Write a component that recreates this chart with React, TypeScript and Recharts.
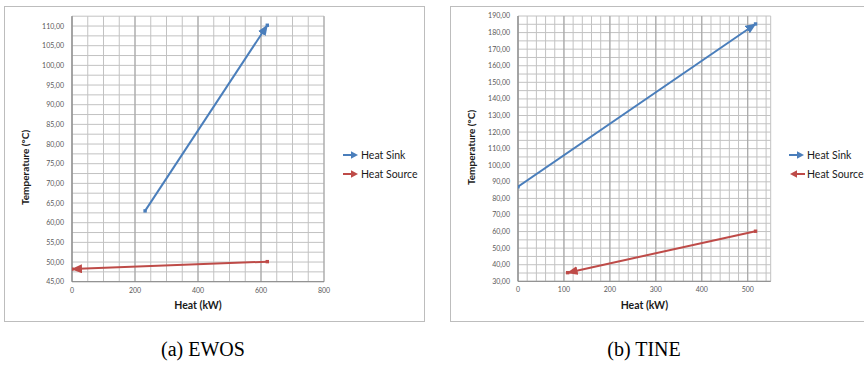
import React from 'react';
import { LineChart, Line, XAxis, YAxis, CartesianGrid, Legend, Label } from 'recharts';

const SINK_COLOR = '#4A7EBB';
const SOURCE_COLOR = '#BE4B48';

// ---- data ----
const ewosHeatSink = [
  { heat: 232, temp: 63.0 },
  { heat: 620, temp: 110.2 },
];
const ewosHeatSource = [
  { heat: 620, temp: 50.1 },
  { heat: 0, temp: 48.2 },
];
const tineHeatSink = [
  { heat: 0, temp: 87.0 },
  { heat: 517, temp: 185.2 },
];
const tineHeatSource = [
  { heat: 517, temp: 60.2 },
  { heat: 108, temp: 35.2 },
];

const ewosXTicks = [0, 200, 400, 600, 800];
const ewosYTicks = [45, 50, 55, 60, 65, 70, 75, 80, 85, 90, 95, 100, 105, 110];
const tineXTicks = [0, 100, 200, 300, 400, 500];
const tineYTicks = [30, 40, 50, 60, 70, 80, 90, 100, 110, 120, 130, 140, 150, 160, 170, 180, 190];

const seriesNames = ['Heat Sink', 'Heat Source'];
const xTitle = 'Heat (kW)';
const yTitle = 'Temperature (°C)';
const captions = ['(a) EWOS', '(b) TINE'];

// grid line helper (gridline positions, not data)
const steps = (a: number, b: number, s: number) => {
  const out: number[] = [];
  for (let v = a; v <= b + 1e-9; v += s) out.push(Math.round(v * 100) / 100);
  return out;
};

const fmt = (v: number) => v.toFixed(2).replace('.', ',');
const FONT = 'Lato, "Open Sans", sans-serif';
const tickStyle = { fontSize: 7, fill: '#595959', fontFamily: FONT };

const squareDot = (color: string) => (p: any) => (
  <rect key={`dot-${p.index}`} x={p.cx - 1.7} y={p.cy - 1.7} width={3.4} height={3.4} fill={color} />
);

const LegendIcon = ({ color, dir }: { color: string; dir: 'right' | 'left' }) => (
  <svg width={16} height={10} style={{ display: 'block', marginRight: 2 }}>
    <line x1={dir === 'right' ? 0 : 6} y1={5} x2={dir === 'right' ? 9 : 16} y2={5} stroke={color} strokeWidth={2} />
    {dir === 'right' ? (
      <polygon points="15,5 8,1.3 8,8.7" fill={color} />
    ) : (
      <polygon points="1,5 8,1.3 8,8.7" fill={color} />
    )}
  </svg>
);

const LegendBox = ({ dirs }: { dirs: ('right' | 'left')[] }) => (
  <div style={{ fontFamily: FONT, fontSize: 10.5, color: '#1a1a1a' }}>
    {seriesNames.map((n, i) => (
      <div key={n} style={{ display: 'flex', alignItems: 'center', height: 19 }}>
        <LegendIcon color={i === 0 ? SINK_COLOR : SOURCE_COLOR} dir={dirs[i]} />
        <span>{n}</span>
      </div>
    ))}
  </div>
);

type PanelProps = {
  sink: { heat: number; temp: number }[];
  source: { heat: number; temp: number }[];
  xDomain: [number, number];
  yDomain: [number, number];
  xTicks: number[];
  yTicks: number[];
  xMinor: number[];
  xMajor: number[];
  yMinor: number[];
  width: number;
  margin: { top: number; right: number; bottom: number; left: number };
  legendDirs: ('right' | 'left')[];
  yTitleDy: number;
};

const Panel = (props: PanelProps) => {
  const { sink, source, xDomain, yDomain, xTicks, yTicks, xMinor, xMajor, yMinor, width, margin, legendDirs, yTitleDy } = props;
  return (
    <LineChart width={width} height={315} margin={margin}>
      <CartesianGrid horizontalValues={yMinor} verticalValues={xMinor} stroke="#c2c2c2" strokeWidth={1} />
      <CartesianGrid horizontal={false} verticalValues={xMajor} stroke="#a3a3a3" strokeWidth={1} />
      <XAxis
        type="number"
        dataKey="heat"
        domain={xDomain}
        ticks={xTicks}
        interval={0}
        allowDataOverflow
        tickSize={0}
        tickMargin={6}
        tickLine={false}
        height={20}
        axisLine={{ stroke: '#868686' }}
        tick={tickStyle}
      >
        <Label
          value={xTitle}
          position="bottom"
          offset={0}
          style={{ fontSize: 10.5, fontWeight: 700, fill: '#1a1a1a', fontFamily: FONT }}
        />
      </XAxis>
      <YAxis
        type="number"
        dataKey="temp"
        domain={yDomain}
        ticks={yTicks}
        interval={0}
        allowDataOverflow
        tickSize={0}
        tickMargin={8}
        tickLine={false}
        width={40}
        axisLine={{ stroke: '#868686' }}
        tick={tickStyle}
        tickFormatter={fmt}
      >
        <Label
          value={yTitle}
          content={(lp: any) => {
            const vb = lp.viewBox || { x: 0, y: 0, width: 0, height: 0 };
            const cx = vb.x - 6.5;
            const cy = vb.y + vb.height / 2 + yTitleDy;
            return (
              <text
                x={cx}
                y={cy}
                textAnchor="middle"
                dominantBaseline="central"
                transform={`rotate(-90, ${cx}, ${cy})`}
                style={{ fontSize: 10, fontWeight: 700, fill: '#1a1a1a', fontFamily: FONT }}
              >
                {yTitle}
              </text>
            );
          }}
        />
      </YAxis>
      <Legend
        layout="vertical"
        align="center"
        verticalAlign="middle"
        wrapperStyle={{ left: 339, top: 139.5, width: 90 }}
        content={() => <LegendBox dirs={legendDirs} />}
      />
      <Line
        data={sink}
        dataKey="temp"
        name={seriesNames[0]}
        stroke={SINK_COLOR}
        strokeWidth={2}
        dot={squareDot(SINK_COLOR)}
        activeDot={false}
        markerEnd="url(#arrowSink)"
        isAnimationActive={false}
      />
      <Line
        data={source}
        dataKey="temp"
        name={seriesNames[1]}
        stroke={SOURCE_COLOR}
        strokeWidth={2}
        dot={squareDot(SOURCE_COLOR)}
        activeDot={false}
        markerEnd="url(#arrowSource)"
        isAnimationActive={false}
      />
    </LineChart>
  );
};

export default function App() {
  return (
    <div style={{ position: 'absolute', left: 0, top: 0, width: 864, height: 366, overflow: 'hidden', background: '#fff' }}>
      <svg width={0} height={0} style={{ position: 'absolute' }}>
        <defs>
          <marker id="arrowSink" viewBox="0 0 11 9" refX={10} refY={4.5} markerWidth={11} markerHeight={9} markerUnits="userSpaceOnUse" orient="auto">
            <path d="M0,0 L11,4.5 L0,9 z" fill={SINK_COLOR} />
          </marker>
          <marker id="arrowSource" viewBox="0 0 11 9" refX={10} refY={4.5} markerWidth={11} markerHeight={9} markerUnits="userSpaceOnUse" orient="auto">
            <path d="M0,0 L11,4.5 L0,9 z" fill={SOURCE_COLOR} />
          </marker>
        </defs>
      </svg>

      {/* panel (a) */}
      <div style={{ position: 'absolute', left: 4, top: 6, width: 419, height: 314, border: '1px solid #bdbdbd' }} />
      <div style={{ position: 'absolute', left: 4, top: 6 }}>
        <Panel
          sink={ewosHeatSink}
          source={ewosHeatSource}
          xDomain={[0, 800]}
          yDomain={[45, 112.5]}
          xTicks={ewosXTicks}
          yTicks={ewosYTicks}
          xMinor={steps(0, 800, 50)}
          xMajor={ewosXTicks}
          yMinor={steps(45, 112.5, 2.5)}
          width={420}
          margin={{ top: 10.2, right: 100, bottom: 19.3, left: 28 }}
          legendDirs={['right', 'right']}
          yTitleDy={18.5}
        />
      </div>

      {/* panel (b) */}
      <div style={{ position: 'absolute', left: 450, top: 6, width: 440, height: 314, border: '1px solid #bdbdbd' }} />
      <div style={{ position: 'absolute', left: 450, top: 6 }}>
        <Panel
          sink={tineHeatSink}
          source={tineHeatSource}
          xDomain={[0, 550]}
          yDomain={[30, 190]}
          xTicks={tineXTicks}
          yTicks={tineYTicks}
          xMinor={[...steps(0, 540, 20), 550]}
          xMajor={tineXTicks}
          yMinor={steps(30, 190, 5)}
          width={414}
          margin={{ top: 10, right: 93.3, bottom: 19.7, left: 28 }}
          legendDirs={['right', 'left']}
          yTitleDy={-1.2}
        />
      </div>

      {/* captions */}
      <div style={{ position: 'absolute', left: 103, top: 336, width: 200, textAlign: 'center', fontFamily: '"Liberation Serif", "Times New Roman", serif', fontSize: 20, lineHeight: '26px', color: '#000' }}>
        {captions[0]}
      </div>
      <div style={{ position: 'absolute', left: 544, top: 336, width: 200, textAlign: 'center', fontFamily: '"Liberation Serif", "Times New Roman", serif', fontSize: 20, lineHeight: '26px', color: '#000' }}>
        {captions[1]}
      </div>
    </div>
  );
}
